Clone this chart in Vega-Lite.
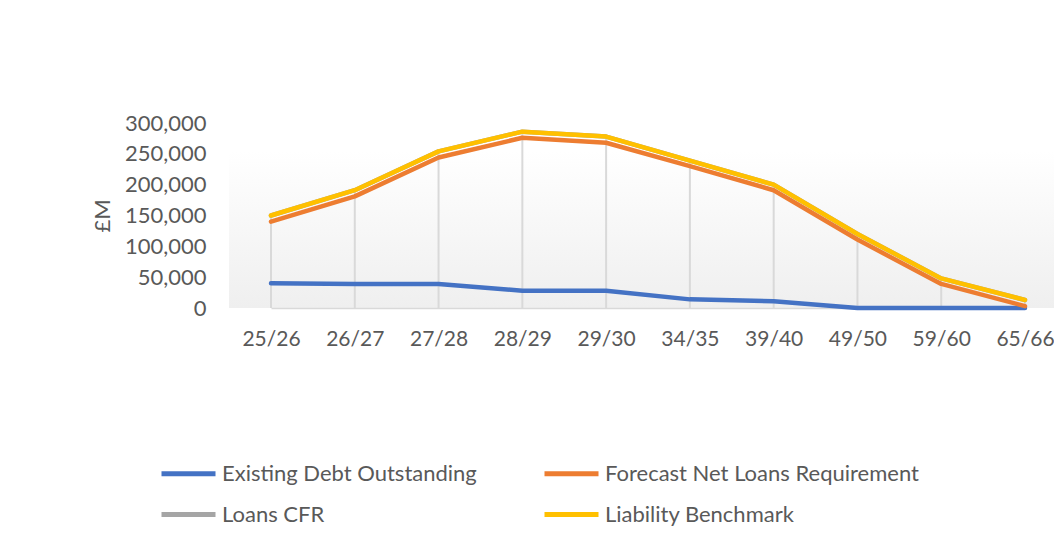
{
  "$schema": "https://vega.github.io/schema/vega-lite/v6.json",
  "autosize": {"type": "none"},
  "width": 825,
  "height": 185,
  "padding": {"left": 229, "top": 123, "right": 0, "bottom": 237},
  "background": "#ffffff",
  "config": {
    "font": "Lato",
    "view": {
      "stroke": null,
      "fill": {
        "gradient": "linear",
        "x1": 0, "y1": 0, "x2": 0, "y2": 1,
        "stops": [
          {"offset": 0, "color": "#ffffff"},
          {"offset": 0.15, "color": "#ffffff"},
          {"offset": 1, "color": "#efefef"}
        ]
      }
    },
    "axis": {
      "labelFont": "Lato",
      "labelFontSize": 22,
      "labelColor": "#595959",
      "titleFont": "Lato",
      "titleFontSize": 22,
      "titleColor": "#595959",
      "titleFontWeight": "normal"
    },
    "legend": {
      "labelFont": "Lato",
      "labelFontSize": 22,
      "labelColor": "#595959"
    }
  },
  "data": {
    "values": [
      {"year": "25/26", "Existing Debt Outstanding": 40000, "Forecast Net Loans Requirement": 140000, "Loans CFR": 150000, "Liability Benchmark": 150000},
      {"year": "26/27", "Existing Debt Outstanding": 39000, "Forecast Net Loans Requirement": 181000, "Loans CFR": 191000, "Liability Benchmark": 191000},
      {"year": "27/28", "Existing Debt Outstanding": 39000, "Forecast Net Loans Requirement": 244000, "Loans CFR": 254000, "Liability Benchmark": 254000},
      {"year": "28/29", "Existing Debt Outstanding": 28000, "Forecast Net Loans Requirement": 276000, "Loans CFR": 286000, "Liability Benchmark": 286000},
      {"year": "29/30", "Existing Debt Outstanding": 28000, "Forecast Net Loans Requirement": 268000, "Loans CFR": 278000, "Liability Benchmark": 278000},
      {"year": "34/35", "Existing Debt Outstanding": 14000, "Forecast Net Loans Requirement": 230000, "Loans CFR": 239000, "Liability Benchmark": 239000},
      {"year": "39/40", "Existing Debt Outstanding": 11000, "Forecast Net Loans Requirement": 191000, "Loans CFR": 200000, "Liability Benchmark": 200000},
      {"year": "49/50", "Existing Debt Outstanding": 0, "Forecast Net Loans Requirement": 111000, "Loans CFR": 120000, "Liability Benchmark": 120000},
      {"year": "59/60", "Existing Debt Outstanding": 0, "Forecast Net Loans Requirement": 39000, "Loans CFR": 48000, "Liability Benchmark": 48000},
      {"year": "65/66", "Existing Debt Outstanding": 0, "Forecast Net Loans Requirement": 3000, "Loans CFR": 13000, "Liability Benchmark": 13000}
    ]
  },
  "encoding": {
    "x": {
      "field": "year",
      "type": "nominal",
      "sort": null,
      "scale": {"type": "point", "range": [42, 796], "padding": 0},
      "axis": {
        "title": null,
        "labelAngle": 0,
        "labelFontSize": 21,
        "ticks": false,
        "grid": false,
        "domain": true,
        "domainColor": "#d9d9d9",
        "domainWidth": 1.5,
        "labelPadding": 20
      }
    }
  },
  "layer": [
    {
      "mark": {"type": "rule", "color": "#d9d9d9", "strokeWidth": 2},
      "encoding": {
        "y": {
          "field": "Liability Benchmark",
          "type": "quantitative",
          "scale": {"domain": [0, 300000]},
          "axis": {
            "title": "£M",
            "values": [0, 50000, 100000, 150000, 200000, 250000, 300000],
            "format": ",.0f",
            "domain": false,
            "ticks": false,
            "grid": false,
            "labelPadding": 23,
            "titlePadding": 10
          }
        },
        "y2": {"datum": 0}
      }
    },
    {
      "transform": [
        {"fold": ["Existing Debt Outstanding", "Forecast Net Loans Requirement", "Loans CFR", "Liability Benchmark"], "as": ["series", "value"]}
      ],
      "mark": {"type": "line", "strokeWidth": 4.5, "strokeCap": "round", "strokeJoin": "round"},
      "encoding": {
        "y": {
          "field": "value",
          "type": "quantitative",
          "scale": {"domain": [0, 300000]},
          "axis": {
            "title": "£M",
            "values": [0, 50000, 100000, 150000, 200000, 250000, 300000],
            "format": ",.0f",
            "domain": false,
            "ticks": false,
            "grid": false,
            "labelPadding": 23,
            "titlePadding": 10
          }
        },
        "color": {
          "field": "series",
          "type": "nominal",
          "scale": {
            "domain": ["Existing Debt Outstanding", "Loans CFR", "Forecast Net Loans Requirement", "Liability Benchmark"],
            "range": ["#4472C4", "#A5A5A5", "#ED7D31", "#FFC000"]
          },
          "legend": {
            "title": null,
            "orient": "none",
            "legendX": -70,
            "legendY": 321,
            "columns": 2,
            "columnPadding": 57,
            "rowPadding": -4,
            "symbolType": "stroke",
            "symbolSize": 2916,
            "symbolStrokeWidth": 5,
            "labelOffset": 4,
            "labelLimit": 400
          }
        }
      }
    }
  ]
}
